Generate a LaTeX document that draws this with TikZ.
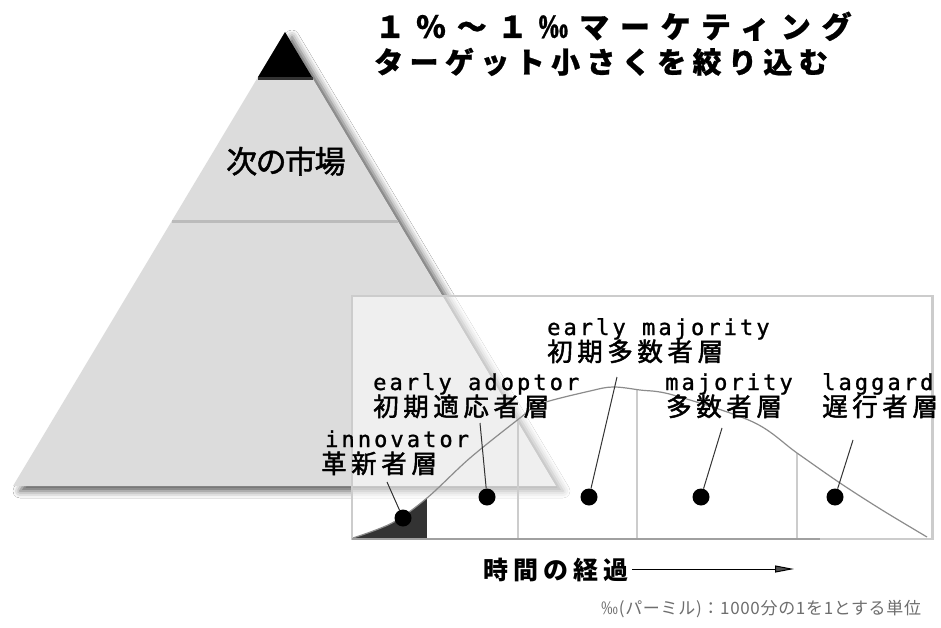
\documentclass[tikz,border=0pt]{standalone}
\usepackage{fontspec}
\usetikzlibrary{shadows.blur,arrows.meta}
\newfontfamily\monolab{DejaVu Sans Mono}[LetterSpace=14,FakeBold=1.2]
\newfontfamily\jplab{Noto Sans CJK JP}[LetterSpace=18,FakeBold=1.8]
\newfontfamily\jptitleA{Noto Sans CJK JP}[LetterSpace=36,FakeBold=0.8]
\newfontfamily\jptitleB{Noto Sans CJK JP}[LetterSpace=22,FakeBold=0.8]
\newfontfamily\jptime{Noto Sans CJK JP}[LetterSpace=20]
\newfontfamily\jpmarket{Noto Sans CJK JP}[LetterSpace=-5,FakeBold=1.5]
\newfontfamily\jpnote{Noto Sans CJK JP}[LetterSpace=4]
\definecolor{pyr}{HTML}{DCDCDC}
\definecolor{sep}{HTML}{BBBBBB}
\definecolor{boxline}{HTML}{CCCCCC}
\definecolor{curvec}{HTML}{8C8C8C}
\definecolor{darkreg}{HTML}{333333}
\definecolor{notec}{HTML}{6E6E6E}
\begin{document}
\begin{tikzpicture}[x=1pt,y=-1pt,
  txt/.style={inner sep=0, anchor=base west},
  enlab/.style={txt, font=\monolab\fontsize{22}{24}\selectfont},
  jplab/.style={txt, font=\jplab\fontsize{25.5}{28}\selectfont},
  dot/.style={circle, fill=black, minimum size=17pt, inner sep=0},
  leader/.style={draw=darkreg, line width=1pt},
  divider/.style={draw=boxline, line width=1.2pt}]
\useasboundingbox (0,0) rectangle (941,628);
\fill[white] (0,0) rectangle (941,628);

% pyramid
\fill[pyr, blur shadow={shadow xshift=7pt, shadow yshift=-5pt, shadow blur radius=7pt, shadow opacity=65}]
  (285,32) -- (556,486) -- (13,486) -- cycle;
\fill[black] (285,32) -- (312,77) -- (258,77) -- cycle;
\draw[darkreg, line width=3pt] (257.5,78.5) -- (312.5,78.5);
\draw[sep, line width=3pt] (172,222) -- (398,222);
\node[txt, font=\jpmarket\fontsize{31}{34}\selectfont] (next) at (226,173) {次の市場};

% chart box
\def\curvepath{plot[smooth, tension=0.55] coordinates {(353,538) (392,523) (427,498) (470,458) (520,418) (540,404) (590,391) (613,387) (640,390) (673,395) (753,422) (797,453) (840,483) (882,510) (927,537)}}
\fill[white, fill opacity=0.55] (352,296) rectangle (933,539);
\begin{scope}
  \clip \curvepath -- (927,539) -- (353,539) -- cycle;
  \fill[darkreg] (352,380) rectangle (427,540);
  \draw[divider] (518,296) -- (518,539);
  \draw[divider] (637,296) -- (637,539);
  \draw[divider] (797,296) -- (797,539);
\end{scope}
\draw[curvec, line width=1.2pt] \curvepath;
\draw[boxline, line width=2pt] (352,296) rectangle (933,539);
\draw[boxline, line width=3pt] (932.5,296) -- (932.5,540);
\draw[color={rgb,255:red,160;green,160;blue,160}, line width=2pt] (352,538.5) -- (820,538.5);

% dots and leaders
\node[dot] (d1) at (403,518) {};
\node[dot] (d2) at (487,497) {};
\node[dot] (d3) at (589,497) {};
\node[dot] (d4) at (701,497) {};
\node[dot] (d5) at (835,497) {};
\coordinate (t1) at (387,482);
\coordinate (t2) at (480,423);
\coordinate (t3) at (617,377);
\coordinate (t4) at (722,428);
\coordinate (t5) at (853,440);
\draw[leader] (t1) -- (d1);
\draw[leader] (t2) -- (d2);
\draw[leader] (t3) -- (d3);
\draw[leader] (t4) -- (d4);
\draw[leader] (t5) -- (d5);

% labels
\node[enlab] (em) at (547,335) {early majority};
\node[jplab] (emj) at (547,361) {初期多数者層};
\node[enlab] (ea) at (373,390) {early adoptor};
\node[jplab] (eaj) at (373,416) {初期適応者層};
\node[enlab] (mj) at (665,390) {majority};
\node[jplab] (mjj) at (666,416) {多数者層};
\node[enlab] (lg) at (822,390) {laggard};
\node[jplab] (lgj) at (822,416) {遅行者層};
\node[enlab] (in) at (325,447) {innovator};
\node[jplab] (inj) at (321,473) {革新者層};

% title
\node[txt, font=\jptitleA\bfseries\fontsize{30}{32}\selectfont] (title1) at (375,38) {１％～１‰マーケティング};
\node[txt, font=\jptitleB\bfseries\fontsize{29}{32}\selectfont] (title2) at (374,73) {ターゲット小さくを絞り込む};

% time axis
\node[txt, font=\jptime\bfseries\fontsize{25}{28}\selectfont] (time) at (483,579) {時間の経過};
\coordinate (arrowend) at (794,569);
\draw[line width=1pt, -{Triangle[length=19pt,width=7pt]}] (time.east |- 0,569) ++(4,0) coordinate (arrowstart) -- (arrowend);

% note
\node[txt, text=notec, font=\jpnote\fontsize{17}{19}\selectfont] (note) at (601,614) {‰(パーミル)：1000分の1を1とする単位};
\end{tikzpicture}
\end{document}
